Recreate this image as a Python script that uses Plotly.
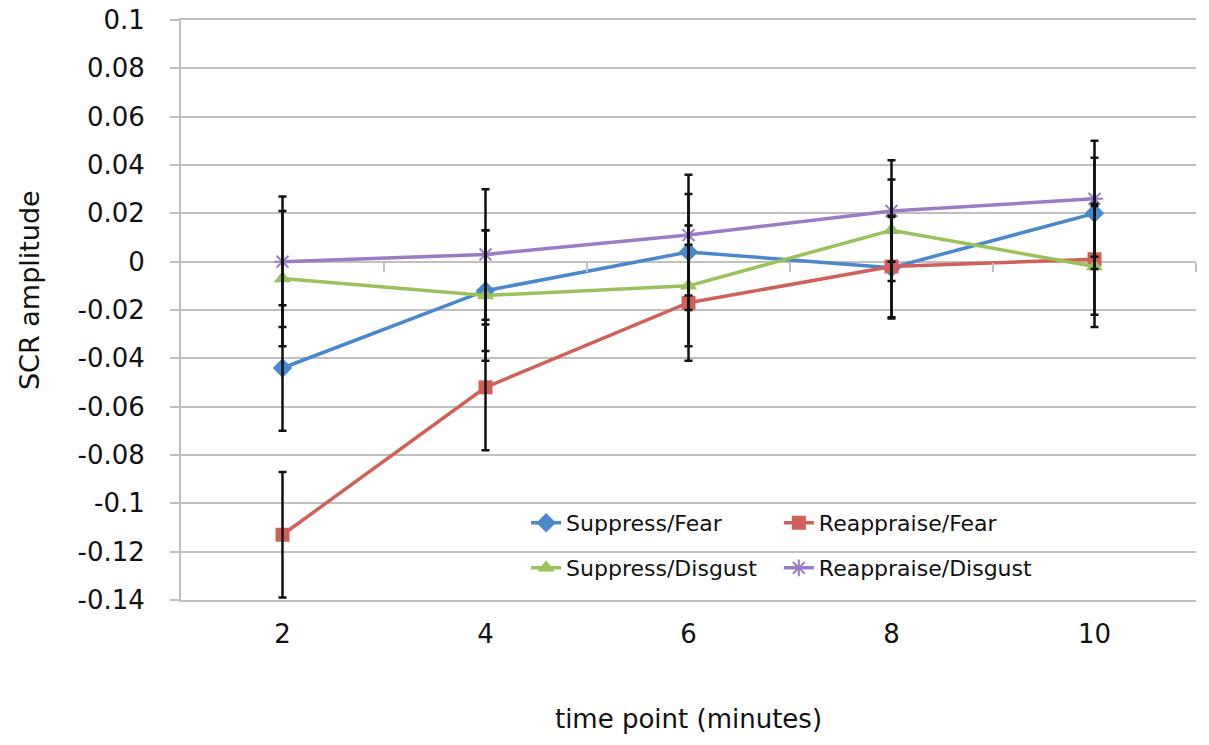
import plotly.graph_objects as go

# ---- data ----
time_points = [2, 4, 6, 8, 10]
tick_labels = ["2", "4", "6", "8", "10"]

suppress_fear = [-0.044, -0.012, 0.004, -0.0025, 0.020]
suppress_fear_err = [0.026, 0.025, 0.024, 0.021, 0.023]

reappraise_fear = [-0.113, -0.052, -0.017, -0.002, 0.001]
reappraise_fear_err = [0.026, 0.026, 0.024, 0.021, 0.023]

suppress_disgust = [-0.007, -0.014, -0.010, 0.013, -0.002]
suppress_disgust_err = [0.028, 0.027, 0.025, 0.021, 0.025]

reappraise_disgust = [0.000, 0.003, 0.011, 0.021, 0.026]
reappraise_disgust_err = [0.027, 0.027, 0.025, 0.021, 0.024]

y_ticks = [0.1, 0.08, 0.06, 0.04, 0.02, 0, -0.02, -0.04, -0.06, -0.08, -0.1, -0.12, -0.14]
y_tick_text = ["0.1", "0.08", "0.06", "0.04", "0.02", "0", "-0.02", "-0.04", "-0.06",
               "-0.08", "-0.1", "-0.12", "-0.14"]
boundary_ticks = [3, 5, 7, 9, 11]

series = [
    ("Suppress/Fear", suppress_fear, suppress_fear_err, "#4a88cc", "diamond", 15, "legend"),
    ("Reappraise/Fear", reappraise_fear, reappraise_fear_err, "#d2605a", "square", 14, "legend2"),
    ("Suppress/Disgust", suppress_disgust, suppress_disgust_err, "#9bc25a", "triangle-up", 15, "legend3"),
    ("Reappraise/Disgust", reappraise_disgust, reappraise_disgust_err, "#9a7cc6", "asterisk-open", 14, "legend4"),
]

FONT = "DejaVu Sans"
TXT = "#111111"
GRID = "#c0c0c0"

fig = go.Figure()

# error bars first (beneath all lines)
for name, vals, errs, color, sym, size, lg in series:
    fig.add_trace(go.Scatter(
        x=time_points, y=vals, mode="markers", xaxis="x2",
        marker=dict(size=1, opacity=0),
        error_y=dict(type="data", array=errs, visible=True, color="#111111",
                     thickness=2.5, width=4),
        showlegend=False, hoverinfo="skip",
    ))

for name, vals, errs, color, sym, size, lg in series:
    mline = dict(width=2, color=color) if "open" in sym else dict(width=0)
    fig.add_trace(go.Scatter(
        x=time_points, y=vals, mode="lines+markers", name=name,
        line=dict(color=color, width=3.5),
        marker=dict(symbol=sym, size=size, color=color, line=mline),
        legend=lg,
    ))

# white legend box
fig.add_shape(type="rect", xref="paper", yref="paper",
              x0=0.341, x1=1.0, y0=0.014, y1=0.181,
              fillcolor="white", line=dict(width=0), layer="between")

# y-axis title as a rotated annotation
fig.add_annotation(text="SCR amplitude", xref="paper", yref="paper",
                   x=-0.149, y=0.534, xanchor="center", yanchor="middle",
                   textangle=-90, showarrow=False,
                   font=dict(family=FONT, size=27, color=TXT))

legend_common = dict(bgcolor="rgba(0,0,0,0)", borderwidth=0,
                     font=dict(family=FONT, size=22, color=TXT),
                     xanchor="left", yanchor="middle", itemwidth=30)

fig.update_layout(
    width=1209, height=745,
    margin=dict(l=181, r=13, t=20, b=145),
    paper_bgcolor="white", plot_bgcolor="white",
    font=dict(family=FONT, color=TXT),
    legend=dict(x=0.340, y=0.1328, **legend_common),
    legend2=dict(x=0.589, y=0.1328, **legend_common),
    legend3=dict(x=0.340, y=0.0552, **legend_common),
    legend4=dict(x=0.589, y=0.0552, **legend_common),
    xaxis=dict(range=[1, 11], tickmode="array", tickvals=time_points, ticktext=tick_labels,
               automargin=False,
               showgrid=False, zeroline=False, showline=True, mirror=True,
               linecolor=GRID, linewidth=2,
               ticks="", tickfont=dict(family=FONT, size=26, color=TXT),
               ticklabelstandoff=10,
               title=dict(text="time point (minutes)", font=dict(family=FONT, size=26, color=TXT),
                          standoff=62)),
    xaxis2=dict(range=[1, 11], overlaying="x", anchor="free", position=0.14 / 0.24,
                automargin=False,
                tickmode="array", tickvals=boundary_ticks, showticklabels=False,
                ticks="outside", ticklen=9, tickwidth=2, tickcolor=GRID,
                showgrid=False, zeroline=False, showline=False),
    yaxis=dict(range=[-0.14, 0.1], tickmode="array", tickvals=y_ticks, ticktext=y_tick_text,
               automargin=False, ticklabeloverflow="allow",
               showgrid=True, gridcolor=GRID, gridwidth=2,
               zeroline=True, zerolinecolor=GRID, zerolinewidth=2,
               showline=True, linecolor=GRID, linewidth=2, mirror=False,
               ticks="outside", ticklen=9, tickwidth=2, tickcolor=GRID,
               ticklabelstandoff=20,
               tickfont=dict(family=FONT, size=26, color=TXT)),
)

# remove the browser's default 8px body margin so the figure sits at the page origin
fig.write_html("out.html", config={"displayModeBar": False},
               post_script="document.body.style.margin='0';")
